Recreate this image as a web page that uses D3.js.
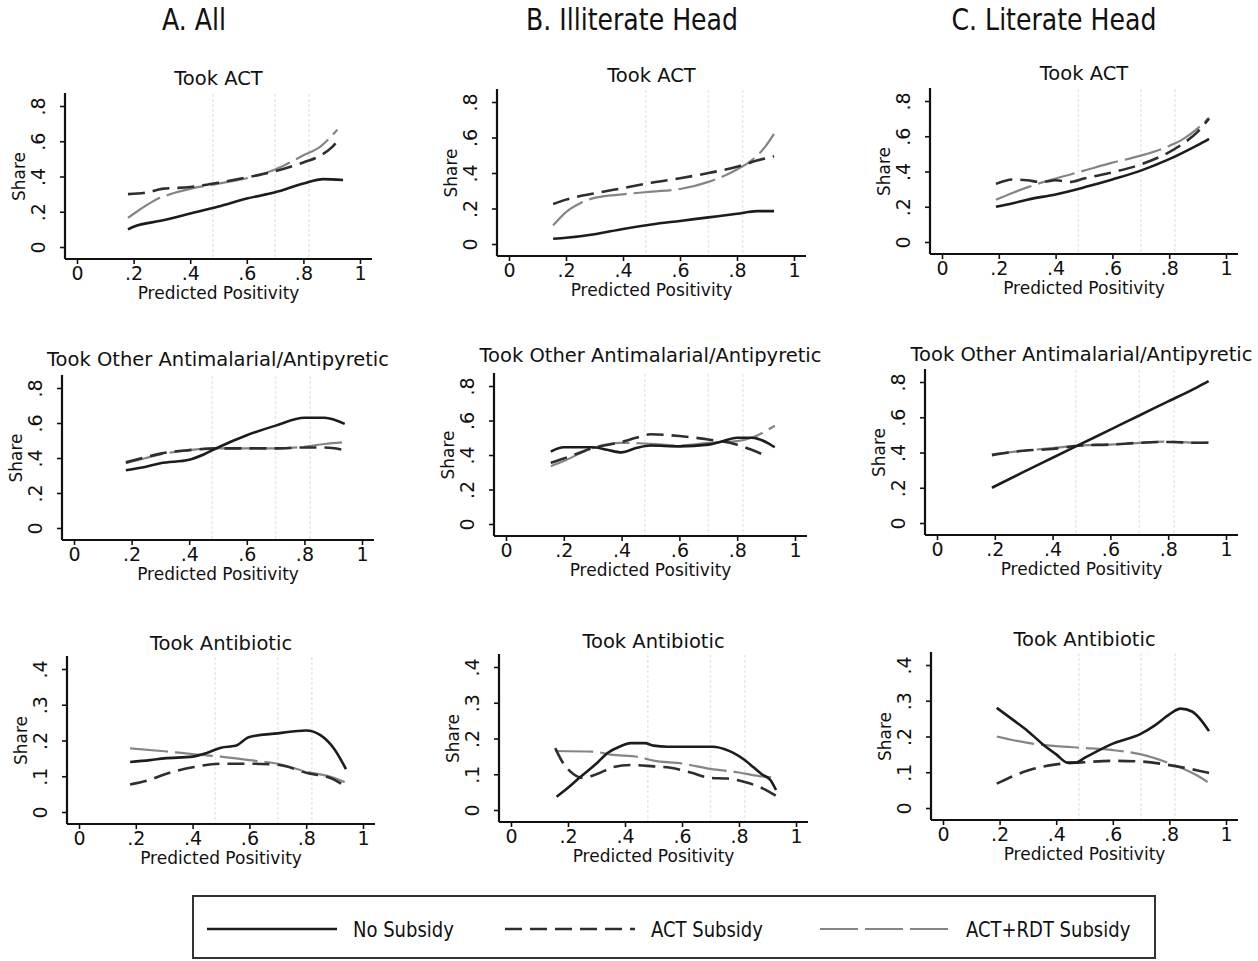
<!DOCTYPE html>
<html>
<head>
<meta charset="utf-8">
<script src="https://cdn.jsdelivr.net/npm/d3@7"></script>
<style>
  html, body { margin: 0; padding: 0; background: #fff; }
  svg { display: block; }
</style>
</head>
<body>
<svg id="chart" width="1258" height="961"></svg>
<script>
// ---------- DATA ----------
const columnTitles = ["A. All", "B. Illiterate Head", "C. Literate Head"];
const rowTitles = ["Took ACT", "Took Other Antimalarial/Antipyretic", "Took Antibiotic"];
const seriesNames = ["No Subsidy", "ACT Subsidy", "ACT+RDT Subsidy"];
const xTicks = [0, 0.2, 0.4, 0.6, 0.8, 1];
const yTicksWide = [0, 0.2, 0.4, 0.6, 0.8];
const yTicksNarrow = [0, 0.1, 0.2, 0.3, 0.4];
const refLinesX = [0.48, 0.70, 0.82];

// A. All — Took ACT
const allAct_none = [[.18,.10],[.2,.115],[.3,.15],[.4,.19],[.5,.23],[.6,.275],[.7,.31],[.8,.36],[.87,.385],[.94,.38]];
const allAct_act = [[.18,.30],[.25,.31],[.3,.33],[.4,.34],[.5,.365],[.6,.395],[.7,.43],[.8,.48],[.85,.51],[.9,.565],[.93,.62]];
const allAct_rdt = [[.18,.165],[.22,.21],[.28,.27],[.33,.30],[.4,.33],[.5,.36],[.6,.39],[.7,.44],[.8,.52],[.86,.57],[.92,.665]];
// A. All — Other antimalarial
const allOther_none = [[.18,.33],[.25,.35],[.3,.37],[.4,.39],[.45,.42],[.5,.46],[.6,.53],[.7,.585],[.8,.63],[.87,.63],[.94,.595]];
const allOther_act = [[.18,.375],[.25,.405],[.3,.425],[.4,.445],[.5,.455],[.6,.455],[.7,.455],[.8,.46],[.87,.46],[.94,.445]];
const allOther_rdt = [[.18,.37],[.25,.40],[.3,.42],[.4,.445],[.5,.455],[.6,.455],[.7,.455],[.8,.465],[.87,.48],[.94,.49]];
// A. All — Antibiotic
const allAnti_none = [[.18,.14],[.25,.145],[.3,.15],[.4,.155],[.45,.165],[.5,.18],[.55,.185],[.6,.21],[.7,.22],[.8,.228],[.85,.215],[.9,.175],[.94,.12]];
const allAnti_act = [[.18,.077],[.25,.09],[.3,.105],[.4,.125],[.5,.135],[.6,.135],[.7,.132],[.8,.11],[.9,.09],[.94,.07]];
const allAnti_rdt = [[.18,.178],[.3,.17],[.4,.162],[.5,.155],[.6,.145],[.7,.135],[.8,.113],[.9,.095],[.94,.082]];

// B. Illiterate — Took ACT
const illAct_none = [[.155,.03],[.2,.035],[.3,.055],[.4,.085],[.5,.11],[.6,.13],[.7,.15],[.8,.17],[.87,.185],[.93,.185]];
const illAct_act = [[.155,.225],[.2,.25],[.3,.285],[.4,.315],[.5,.345],[.6,.37],[.7,.40],[.8,.435],[.87,.47],[.93,.495]];
const illAct_rdt = [[.155,.105],[.2,.18],[.25,.23],[.3,.26],[.4,.28],[.5,.295],[.6,.31],[.7,.35],[.8,.42],[.85,.47],[.9,.55],[.93,.62]];
// B. Illiterate — Other antimalarial
const illOther_none = [[.155,.42],[.2,.445],[.3,.445],[.35,.43],[.4,.415],[.45,.44],[.5,.455],[.6,.45],[.7,.46],[.75,.48],[.8,.50],[.85,.50],[.93,.445]];
const illOther_act = [[.155,.355],[.2,.38],[.25,.41],[.3,.44],[.4,.475],[.45,.50],[.5,.52],[.6,.51],[.7,.49],[.8,.46],[.85,.43],[.9,.395]];
const illOther_rdt = [[.155,.335],[.2,.365],[.3,.44],[.4,.47],[.5,.465],[.6,.455],[.7,.47],[.8,.48],[.85,.50],[.93,.57]];
// B. Illiterate — Antibiotic
const illAnti_none = [[.16,.037],[.2,.062],[.24,.09],[.3,.13],[.34,.16],[.38,.177],[.42,.187],[.47,.187],[.5,.18],[.55,.177],[.65,.177],[.71,.177],[.75,.17],[.78,.16],[.82,.14],[.85,.12],[.88,.1],[.91,.084],[.93,.056]];
const illAnti_act = [[.155,.173],[.18,.135],[.22,.1],[.25,.09],[.3,.1],[.36,.12],[.42,.126],[.5,.122],[.56,.118],[.63,.105],[.7,.09],[.76,.088],[.82,.078],[.87,.065],[.93,.04]];
const illAnti_rdt = [[.155,.165],[.29,.163],[.35,.155],[.45,.148],[.5,.138],[.6,.13],[.7,.115],[.8,.105],[.87,.095],[.93,.09]];

// C. Literate — Took ACT
const litAct_none = [[.19,.2],[.25,.22],[.3,.24],[.4,.27],[.5,.31],[.6,.355],[.7,.405],[.8,.47],[.9,.55],[.94,.585]];
const litAct_act = [[.19,.33],[.25,.355],[.3,.35],[.35,.34],[.4,.35],[.45,.34],[.5,.36],[.6,.395],[.7,.44],[.8,.51],[.85,.56],[.9,.625],[.94,.70]];
const litAct_rdt = [[.19,.24],[.25,.28],[.3,.31],[.4,.36],[.5,.405],[.6,.45],[.7,.49],[.8,.545],[.85,.585],[.9,.645],[.94,.705]];
// C. Literate — Other antimalarial
const litOther_none = [[.19,.2],[.3,.29],[.4,.37],[.5,.45],[.6,.53],[.7,.61],[.8,.69],[.9,.77],[.94,.805]];
const litOther_act = [[.19,.385],[.3,.41],[.4,.42],[.5,.44],[.6,.445],[.7,.455],[.8,.46],[.9,.455],[.94,.455]];
const litOther_rdt = [[.19,.39],[.3,.41],[.4,.425],[.5,.44],[.6,.445],[.7,.455],[.8,.462],[.9,.455],[.94,.458]];
// C. Literate — Antibiotic
const litAnti_none = [[.19,.28],[.25,.245],[.3,.215],[.35,.18],[.4,.15],[.44,.127],[.47,.127],[.5,.14],[.6,.18],[.7,.208],[.75,.232],[.8,.262],[.84,.278],[.88,.27],[.94,.215]];
const litAnti_act = [[.19,.068],[.25,.09],[.3,.105],[.4,.122],[.5,.128],[.6,.132],[.7,.13],[.8,.12],[.9,.105],[.94,.098]];
const litAnti_rdt = [[.19,.2],[.3,.182],[.4,.173],[.5,.168],[.6,.162],[.7,.15],[.8,.125],[.9,.09],[.94,.07]];

// ---------- LAYOUT ----------
const panels = [
  {c:0, r:0, x0:77,  x1:360,  y0:247, yT:106, yMax:0.8, series:[allAct_none, allAct_act, allAct_rdt]},
  {c:0, r:1, x0:74,  x1:362,  y0:528, yT:388, yMax:0.8, series:[allOther_none, allOther_act, allOther_rdt]},
  {c:0, r:2, x0:79,  x1:363,  y0:812, yT:669, yMax:0.4, series:[allAnti_none, allAnti_act, allAnti_rdt]},
  {c:1, r:0, x0:509, x1:794,  y0:244, yT:102, yMax:0.8, series:[illAct_none, illAct_act, illAct_rdt]},
  {c:1, r:1, x0:506, x1:795,  y0:524, yT:386, yMax:0.8, series:[illOther_none, illOther_act, illOther_rdt]},
  {c:1, r:2, x0:511, x1:796,  y0:810, yT:667, yMax:0.4, series:[illAnti_none, illAnti_act, illAnti_rdt]},
  {c:2, r:0, x0:942, x1:1226, y0:242, yT:101, yMax:0.8, series:[litAct_none, litAct_act, litAct_rdt]},
  {c:2, r:1, x0:937, x1:1226, y0:523, yT:382, yMax:0.8, series:[litOther_none, litOther_act, litOther_rdt]},
  {c:2, r:2, x0:943, x1:1226, y0:808, yT:665, yMax:0.4, series:[litAnti_none, litAnti_act, litAnti_rdt]}
];
const headerX = [194, 632, 1054];

const styles = [
  {stroke:"#1c1c1c", width:2.6, dash:null},
  {stroke:"#2e2e2e", width:2.6, dash:"17,8"},
  {stroke:"#858585", width:2.2, dash:"38,7"}
];

const FONT = "'DejaVu Sans', Verdana, sans-serif";
const FONT_C = "'DejaVu Sans Condensed', 'DejaVu Sans', sans-serif";

const svg = d3.select("#chart");
const fmt = d => d === 0 ? "0" : d === 1 ? "1" : String(d).replace(/^0/, "");

// headers
svg.selectAll("text.hdr").data(columnTitles).join("text")
  .attr("class","hdr")
  .attr("transform",(d,i)=>`translate(${headerX[i]},30) scale(1,1.08)`)
  .attr("text-anchor","middle")
  .style("font-family",FONT_C)
  .style("font-size","28px").attr("fill","#111")
  .text(d=>d);

panels.forEach(p => {
  const g = svg.append("g");
  const x = d3.scaleLinear().domain([0,1]).range([p.x0, p.x1]);
  const y = d3.scaleLinear().domain([0,p.yMax]).range([p.y0, p.yT]);
  const yTicks = p.yMax > 0.5 ? yTicksWide : yTicksNarrow;
  const axX = p.y0 + 12, axY = p.x0 - 12;

  // reference lines
  g.selectAll("line.ref").data(refLinesX).join("line")
    .attr("x1",d=>x(d)).attr("x2",d=>x(d))
    .attr("y1",p.yT-12).attr("y2",axX)
    .attr("stroke","#e9e9e9").attr("stroke-width",1.6).attr("stroke-dasharray","3,2");

  // axes
  const xa = g.append("g").attr("transform",`translate(0,${axX})`)
    .call(d3.axisBottom(x).tickValues(xTicks).tickFormat(fmt).tickSize(5).tickSizeOuter(0));
  xa.select(".domain").remove();
  xa.append("line").attr("x1",axY).attr("x2",p.x1+12).attr("stroke","#111").attr("stroke-width",2.2);
  xa.selectAll(".tick line").attr("stroke","#111").attr("stroke-width",1.6);
  xa.selectAll(".tick text").attr("y",21).attr("dy",0)
    .style("font-family",FONT).style("font-size","19px").attr("fill","#111");

  const ya = g.append("g").attr("transform",`translate(${axY},0)`)
    .call(d3.axisLeft(y).tickValues(yTicks).tickFormat(fmt).tickSize(5).tickSizeOuter(0));
  ya.select(".domain").remove();
  ya.append("line").attr("y1",axX).attr("y2",p.yT-13).attr("stroke","#111").attr("stroke-width",2.2);
  ya.selectAll(".tick line").attr("stroke","#111").attr("stroke-width",1.6);
  ya.selectAll(".tick text")
    .attr("x",0).attr("dy",0)
    .attr("transform","translate(-20,0) rotate(-90)")
    .attr("text-anchor","middle")
    .style("font-family",FONT).style("font-size","19px").attr("fill","#111");

  // labels
  g.append("text").attr("x",x(0.5)).attr("y",p.y0+52).attr("text-anchor","middle")
    .style("font-family",FONT).style("font-size","17px").attr("fill","#111")
    .text("Predicted Positivity");
  g.append("text").attr("transform",`translate(${p.x0-52},${y(p.yMax/2)}) rotate(-90)`)
    .attr("text-anchor","middle")
    .style("font-family",FONT).style("font-size","17px").attr("fill","#111")
    .text("Share");
  g.append("text").attr("x",x(0.5)).attr("y",p.y0-162).attr("text-anchor","middle")
    .style("font-family",FONT).style("font-size","19.5px").attr("fill","#111")
    .text(rowTitles[p.r]);

  // lines (gray first, solid last)
  const line = d3.line().x(d=>x(d[0])).y(d=>y(d[1])).curve(d3.curveMonotoneX);
  [2,1,0].forEach(si => {
    const s = styles[si];
    g.append("path").datum(p.series[si])
      .attr("d",line).attr("fill","none")
      .attr("stroke",s.stroke).attr("stroke-width",s.width)
      .attr("stroke-dasharray",s.dash)
      .attr("stroke-linecap","butt").attr("stroke-linejoin","round");
  });
});

// legend
const lg = svg.append("g");
lg.append("rect").attr("x",193).attr("y",896).attr("width",962).attr("height",62)
  .attr("fill","#fff").attr("stroke","#333").attr("stroke-width",2);
const legX = [207, 505, 820];
const legScale = d3.scaleOrdinal().domain(seriesNames).range(legX);
seriesNames.forEach((name,i) => {
  const s = styles[i];
  const lx = legScale(name);
  lg.append("line").attr("x1",lx).attr("x2",lx+130).attr("y1",929).attr("y2",929)
    .attr("stroke",s.stroke).attr("stroke-width",s.width).attr("stroke-dasharray",s.dash);
  lg.append("text").attr("transform",`translate(${lx+146},937) scale(1,1.05)`)
    .style("font-family",FONT_C)
    .style("font-size","20px").attr("fill","#111").text(name);
});
</script>
</body>
</html>
